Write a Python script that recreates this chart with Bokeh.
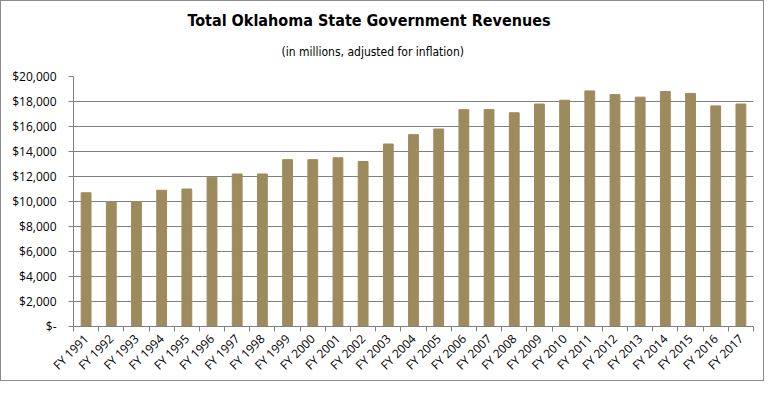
import math
from bokeh.plotting import figure
from bokeh.models import (Range1d, FixedTicker, NumeralTickFormatter, Title)
from bokeh.embed import file_html
from bokeh.resources import INLINE

years = ["FY 1991", "FY 1992", "FY 1993", "FY 1994", "FY 1995", "FY 1996", "FY 1997",
         "FY 1998", "FY 1999", "FY 2000", "FY 2001", "FY 2002", "FY 2003", "FY 2004",
         "FY 2005", "FY 2006", "FY 2007", "FY 2008", "FY 2009", "FY 2010", "FY 2011",
         "FY 2012", "FY 2013", "FY 2014", "FY 2015", "FY 2016", "FY 2017"]
revenues = [10700, 10000, 10000, 10900, 11000, 11950, 12200, 12200, 13350, 13350,
            13500, 13200, 14600, 15350, 15800, 17350, 17350, 17100, 17800, 18100,
            18850, 18550, 18350, 18800, 18650, 17650, 17800]
y_ticks = [0, 2000, 4000, 6000, 8000, 10000, 12000, 14000, 16000, 18000, 20000]
title_text = "Total Oklahoma State Government Revenues"
subtitle_text = "(in millions, adjusted for inflation)"

positions = list(range(1, len(years) + 1))
boundaries = [p - 0.5 for p in positions] + [positions[-1] + 0.5]

p = figure(width=764, height=381, output_backend="svg", toolbar_location=None,
           x_range=Range1d(0.5, len(years) + 0.5), y_range=Range1d(0, y_ticks[-1]),
           min_border_left=72, min_border_right=12, min_border_top=75, min_border_bottom=50)
p.outline_line_color = None
p.styles = {"border": "1px solid #8c8c8c", "box-sizing": "border-box"}

p.vbar(x=positions, top=revenues, width=0.39, color="#9D8B5E")

GRAY = "#808080"
p.xgrid.visible = False
p.ygrid.grid_line_color = GRAY
p.ygrid.grid_line_width = 1

xa = p.xaxis[0]
xa.ticker = FixedTicker(ticks=positions, minor_ticks=boundaries)
xa.major_label_overrides = {pos: lab for pos, lab in zip(positions, years)}
xa.major_tick_line_color = None
xa.minor_tick_line_color = GRAY
xa.minor_tick_in = 0
xa.minor_tick_out = 5
xa.axis_line_color = GRAY
xa.major_label_orientation = math.pi / 4
xa.major_label_text_font = "Open Sans"
xa.major_label_text_font_size = "12px"
xa.major_label_text_color = "#000000"
xa.major_label_standoff = 4

ya = p.yaxis[0]
ya.ticker = FixedTicker(ticks=y_ticks)
ya.formatter = NumeralTickFormatter(format="$0,0")
ya.major_label_overrides = {0: "$-"}
ya.major_tick_line_color = GRAY
ya.major_tick_in = 0
ya.major_tick_out = 5
ya.minor_tick_line_color = None
ya.axis_line_color = GRAY
ya.major_label_text_font = "Open Sans"
ya.major_label_text_font_size = "12px"
ya.major_label_text_color = "#000000"
ya.major_label_standoff = 12

p.add_layout(Title(text=subtitle_text, align="left", offset=208, standoff=36,
                   text_font="DejaVu Sans Condensed", text_font_style="normal",
                   text_font_size="12px", text_color="#000000"), "above")
p.add_layout(Title(text=title_text, align="left", offset=114, standoff=-11,
                   text_font="DejaVu Sans Condensed", text_font_style="bold",
                   text_font_size="16px", text_color="#000000"), "above")

open("out.html", "w").write(file_html(p, INLINE))
